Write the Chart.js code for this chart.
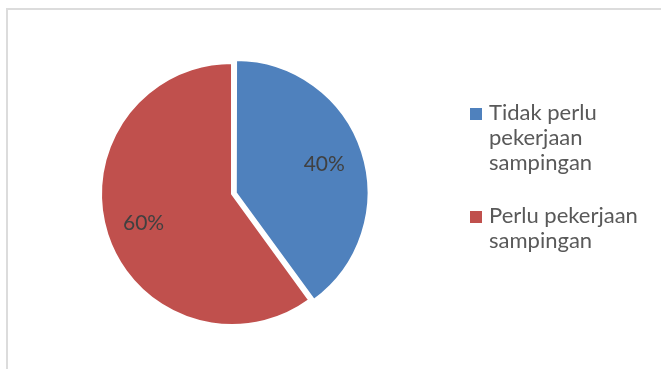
<!DOCTYPE html>
<html>
<head>
<meta charset="utf-8">
<title>Pekerjaan sampingan</title>
<script src="https://cdn.jsdelivr.net/npm/chart.js@4.4.1/dist/chart.umd.min.js"></script>
<style>
  html, body { margin: 0; padding: 0; background: #fff; }
  #wrap { position: relative; width: 661px; height: 369px; overflow: hidden; }
  #frame {
    position: absolute; left: 6px; top: 8px; right: -4px; bottom: -4px;
    border-top: 2px solid #dcdcdc; border-left: 2px solid #dcdcdc;
  }
  #pie { position: absolute; left: 0; top: 0; }
</style>
</head>
<body>
<div id="wrap">
  <div id="frame"></div>
  <canvas id="pie" width="661" height="369"></canvas>
</div>
<script>
// ---- data ----
const categories = [
  ["Tidak perlu", "pekerjaan", "sampingan"],
  ["Perlu pekerjaan", "sampingan"]
];
const shares = [40, 60];
const sliceColors = ["#4f81bd", "#c0504d"];
const explode = [16, 0];

const FONT = "Lato, 'Open Sans', sans-serif";

// percentage text inside each slice
const sliceLabels = {
  id: "sliceLabels",
  afterDatasetsDraw(chart) {
    const { ctx } = chart;
    const meta = chart.getDatasetMeta(0);
    const total = shares.reduce((a, b) => a + b, 0);
    ctx.save();
    ctx.font = "21px " + FONT;
    ctx.fillStyle = "#404040";
    ctx.textAlign = "center";
    ctx.textBaseline = "middle";
    meta.data.forEach((arc, i) => {
      const mid = (arc.startAngle + arc.endAngle) / 2;
      const shift = (arc.options.offset || 0) / 4;
      const r = arc.outerRadius * 0.71 + shift;
      const x = arc.x + Math.cos(mid) * r;
      const y = arc.y + Math.sin(mid) * r;
      ctx.fillText(Math.round(shares[i] / total * 100) + "%", x, y);
    });
    ctx.restore();
  }
};

// legend on the right, wrapped labels
const sideLegend = {
  id: "sideLegend",
  afterDraw(chart) {
    const { ctx } = chart;
    const labels = chart.data.labels;
    const colors = chart.data.datasets[0].backgroundColor;
    let y = 120;
    ctx.save();
    ctx.font = "22px " + FONT;
    ctx.textBaseline = "alphabetic";
    labels.forEach((lines, i) => {
      ctx.fillStyle = colors[i];
      ctx.fillRect(470, y - 12, 12, 12);
      ctx.fillStyle = "#595959";
      lines.forEach(line => {
        ctx.fillText(line, 489, y);
        y += 25;
      });
      y += 28;
    });
    ctx.restore();
  }
};

new Chart(document.getElementById("pie"), {
  type: "pie",
  data: {
    labels: categories,
    datasets: [{
      data: shares,
      backgroundColor: sliceColors,
      borderColor: "#ffffff",
      borderWidth: 2,
      offset: explode,
      hoverOffset: 0
    }]
  },
  options: {
    responsive: false,
    animation: false,
    devicePixelRatio: 1,
    layout: { padding: { left: 92, top: 54, right: 289, bottom: 35 } },
    plugins: {
      legend: { display: false },
      tooltip: { enabled: false },
      title: { display: false }
    }
  },
  plugins: [sliceLabels, sideLegend]
});
</script>
</body>
</html>
